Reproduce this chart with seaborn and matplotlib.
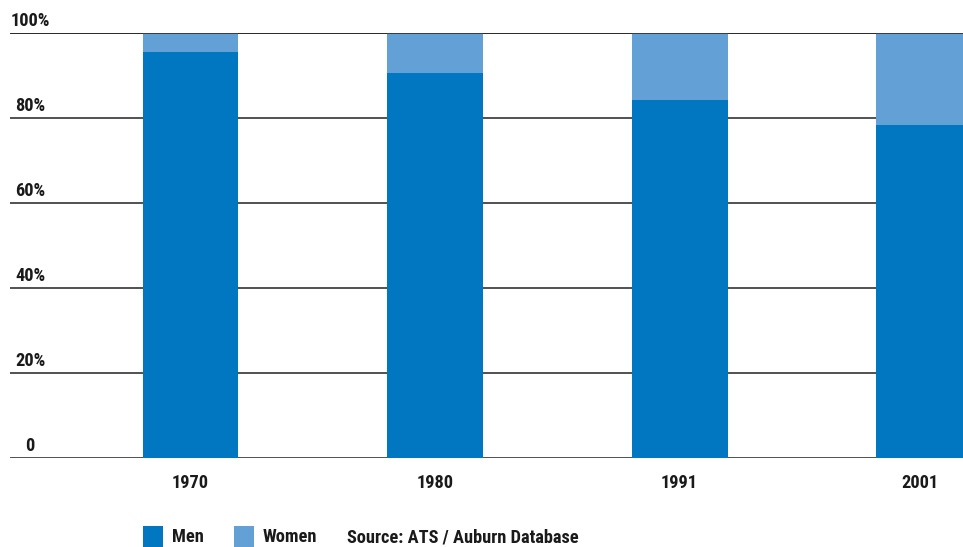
import matplotlib
matplotlib.use("Agg")
import matplotlib.pyplot as plt
from matplotlib.patches import Rectangle
from matplotlib import font_manager
import seaborn as sns
import pandas as pd

years = ["1970", "1980", "1991", "2001"]
men = [95.5, 90.6, 84.2, 78.4]
women = [4.5, 9.4, 15.8, 21.6]
y_ticks = [0, 20, 40, 60, 80, 100]
y_labels = ["0", "20%", "40%", "60%", "80%", "100%"]

MEN_COLOR = "#0077C0"
WOMEN_COLOR = "#63A0D6"
BAR_W = 0.392

# prefer a narrow face for the labels when one is available
installed = {f.name for f in font_manager.fontManager.ttflist}
candidates = ["Liberation Sans Narrow", "Roboto Condensed",
              "DejaVu Sans Condensed", "Open Sans Condensed"]
FONT = [f for f in candidates if f in installed] + ["DejaVu Sans"]

sns.set_theme(style="white")
plt.rcParams["font.family"] = FONT
plt.rcParams["font.weight"] = "bold"

df = pd.DataFrame({"year": years, "men": men, "women": women})
df["total"] = df["men"] + df["women"]

W, H = 963, 547
fig = plt.figure(figsize=(W / 100, H / 100), dpi=100)
ax = fig.add_axes([10 / W, 1 - 458 / H, 1 - 10 / W, (458 - 33) / H])

# horizontal rules under the bars
for t in y_ticks:
    ax.axhline(t, color="#222222", lw=1.1, zorder=0)

# stacked bars: full stack in light blue, men on top in dark blue
sns.barplot(data=df, x="year", y="total", color=WOMEN_COLOR, width=BAR_W,
            saturation=1, linewidth=0, ax=ax, zorder=2)
sns.barplot(data=df, x="year", y="men", color=MEN_COLOR, width=BAR_W,
            saturation=1, linewidth=0, ax=ax, zorder=3)
ax.axhline(100, color="#222222", lw=1.1, zorder=4)

X0, X1 = -0.738, 3.159
ax.set_ylim(0, 100)
ax.set_xlim(X0, X1)
ax.set_xlabel("")
ax.set_ylabel("")
ax.set_yticks([])
ax.set_xticks([])
for s in ax.spines.values():
    s.set_visible(False)

FS = 13.2
TXT = "#1a1a1a"

# year labels centred under the visible part of each bar
for i, yr in enumerate(years):
    left = i - BAR_W / 2
    right = min(i + BAR_W / 2, X1)
    ax.text((left + right) / 2, -6, yr, ha="center", va="center", fontsize=FS,
            fontweight="bold", color=TXT, clip_on=False)

# percent labels above each rule
for t, lab in zip(y_ticks, y_labels):
    ax.text(X0 + 20 / 244.5, t + 0.7, lab, ha="center", va="bottom",
            fontsize=FS, fontweight="bold", color=TXT, clip_on=False)

# legend row
def key(x0, color, label):
    fig.add_artist(Rectangle((x0 / W, 0), 20 / W, 21 / H,
                             transform=fig.transFigure, color=color, lw=0))
    fig.text((x0 + 29) / W, 1 - 537 / H, label, ha="left", va="center",
             fontsize=FS, fontweight="bold", color=TXT)

key(143, MEN_COLOR, "Men")
key(234, WOMEN_COLOR, "Women")
fig.text(347 / W, 1 - 537 / H, "Source: ATS / Auburn Database", ha="left",
         va="center", fontsize=FS, fontweight="bold", color=TXT)

fig.savefig("out.png", dpi=100)
